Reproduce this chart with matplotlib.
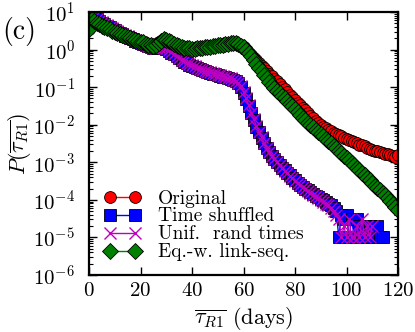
import matplotlib
matplotlib.use('Agg')
import matplotlib.pyplot as plt
import matplotlib.ticker as mticker
import numpy as np

plt.rcParams['font.family'] = 'serif'
plt.rcParams['font.serif'] = ['cmr10']
plt.rcParams['mathtext.fontset'] = 'cm'
plt.rcParams['axes.formatter.use_mathtext'] = True

# log10 P, one bin per day
days_orig = np.arange(0, 121)
log_orig = [0.56, 0.80, 0.77, 0.73, 0.69, 0.65, 0.62, 0.58, 0.55, 0.51,
            0.48, 0.45, 0.42, 0.40, 0.37, 0.34, 0.32, 0.29, 0.27, 0.24,
            0.22, 0.19, 0.17, 0.14, 0.12, 0.11, 0.14, 0.19, 0.24, 0.27,
            0.25, 0.22, 0.19, 0.16, 0.13, 0.10, 0.08, 0.06, 0.05, 0.04,
            0.03, 0.03, 0.04, 0.05, 0.06, 0.07, 0.08, 0.09, 0.10, 0.11,
            0.12, 0.13, 0.14, 0.15, 0.16, 0.17, 0.18, 0.18, 0.15, 0.11,
            0.06, -0.01, -0.08, -0.15, -0.22, -0.29, -0.36, -0.43, -0.50, -0.57,
            -0.64, -0.71, -0.78, -0.85, -0.92, -0.99, -1.06, -1.13, -1.20, -1.27,
            -1.34, -1.41, -1.48, -1.55, -1.62, -1.69, -1.76, -1.83, -1.89, -1.95,
            -2.00, -2.05, -2.10, -2.14, -2.18, -2.22, -2.25, -2.28, -2.31, -2.35,
            -2.37, -2.40, -2.44, -2.46, -2.49, -2.53, -2.55, -2.58, -2.62, -2.64,
            -2.66, -2.69, -2.70, -2.73, -2.74, -2.77, -2.78, -2.81, -2.82, -2.85,
            -2.80]

days_shuf = np.arange(0, 115)
log_shuf = [0.90, 0.88, 0.84, 0.80, 0.76, 0.72, 0.68, 0.64, 0.60, 0.56,
            0.52, 0.48, 0.44, 0.41, 0.37, 0.34, 0.30, 0.27, 0.24, 0.21,
            0.18, 0.15, 0.12, 0.09, 0.06, 0.04, 0.04, 0.07, 0.09, 0.07,
            0.02, -0.03, -0.08, -0.13, -0.18, -0.23, -0.28, -0.32, -0.36, -0.40,
            -0.43, -0.46, -0.49, -0.52, -0.55, -0.58, -0.60, -0.62, -0.64, -0.66,
            -0.68, -0.70, -0.72, -0.74, -0.76, -0.78, -0.81, -0.85, -0.90, -1.00,
            -1.15, -1.32, -1.50, -1.70, -1.88, -2.05, -2.20, -2.35, -2.50, -2.62,
            -2.73, -2.83, -2.92, -3.00, -3.07, -3.14, -3.21, -3.28, -3.35, -3.42,
            -3.48, -3.54, -3.60, -3.65, -3.70, -3.75, -3.80, -3.85, -3.89, -3.93,
            -3.97, -4.01, -4.05, -4.10, -4.15, -4.22, -4.30, -5.00, -4.40, -4.52,
            -4.40, -5.00, -4.52, -5.00, -4.52, -4.70, -5.00, -4.70, -5.00, -4.70,
            -5.00, -5.00, -4.70, -5.00, -5.00]

days_unif = np.arange(0, 111)
log_unif = [0.95, 0.90, 0.86, 0.81, 0.77, 0.73, 0.69, 0.65, 0.61, 0.57,
            0.53, 0.49, 0.45, 0.42, 0.38, 0.35, 0.31, 0.28, 0.25, 0.22,
            0.19, 0.16, 0.13, 0.10, 0.07, 0.05, 0.05, 0.08, 0.10, 0.08,
            0.03, -0.02, -0.07, -0.12, -0.17, -0.22, -0.27, -0.31, -0.35, -0.39,
            -0.42, -0.45, -0.48, -0.51, -0.54, -0.57, -0.59, -0.61, -0.63, -0.65,
            -0.67, -0.69, -0.71, -0.73, -0.75, -0.77, -0.80, -0.84, -0.89, -0.98,
            -1.13, -1.30, -1.48, -1.68, -1.86, -2.03, -2.19, -2.34, -2.48, -2.61,
            -2.72, -2.82, -2.91, -2.99, -3.07, -3.15, -3.22, -3.29, -3.36, -3.43,
            -3.49, -3.55, -3.61, -3.66, -3.72, -3.77, -3.82, -3.86, -3.91, -3.95,
            -4.00, -4.05, -4.10, -4.13, -4.22, -4.30, -4.40, -4.52, -5.00, -4.70,
            -5.00, -4.52, -5.00, -5.00, -4.70, -5.00, -4.52, -5.00, -4.70, -5.00,
            -4.70]

days_eqw = np.arange(0, 121)
log_eqw = [0.55, 0.80, 0.76, 0.72, 0.68, 0.64, 0.61, 0.57, 0.54, 0.50,
           0.47, 0.44, 0.42, 0.39, 0.36, 0.34, 0.31, 0.29, 0.26, 0.24,
           0.21, 0.19, 0.16, 0.13, 0.11, 0.10, 0.13, 0.18, 0.24, 0.27,
           0.25, 0.22, 0.19, 0.16, 0.13, 0.10, 0.07, 0.05, 0.04, 0.03,
           0.02, 0.02, 0.03, 0.04, 0.05, 0.06, 0.07, 0.08, 0.09, 0.10,
           0.11, 0.12, 0.13, 0.14, 0.15, 0.17, 0.18, 0.18, 0.15, 0.10,
           0.08, 0.00, -0.09, -0.18, -0.28, -0.38, -0.48, -0.58, -0.68, -0.77,
           -0.86, -0.94, -1.02, -1.09, -1.16, -1.23, -1.30, -1.37, -1.44, -1.51,
           -1.58, -1.66, -1.74, -1.81, -1.88, -1.95, -2.01, -2.07, -2.13, -2.19,
           -2.25, -2.31, -2.37, -2.43, -2.49, -2.56, -2.62, -2.69, -2.75, -2.82,
           -2.88, -2.95, -3.01, -3.08, -3.14, -3.21, -3.28, -3.35, -3.42, -3.48,
           -3.55, -3.62, -3.68, -3.75, -3.82, -3.88, -3.95, -4.02, -4.10, -4.18,
           -4.27]

labels = ['Original', 'Time shuffled', 'Unif.  rand times', 'Eq.-w. link-seq.']
x_ticks = [0, 20, 40, 60, 80, 100, 120]
y_ticks = [1e-6, 1e-5, 1e-4, 1e-3, 1e-2, 1e-1, 1e0, 1e1]

fig = plt.figure(figsize=(4.15, 3.32), dpi=100)
ax = fig.add_axes([0.2145, 0.1717, 0.7446, 0.7922])

ax.plot(days_orig, 10.0 ** np.array(log_orig), '-o', color='red', mfc='red', mec='black',
        mew=0.6, ms=8.5, lw=1, label=labels[0])
ax.plot(days_shuf, 10.0 ** np.array(log_shuf), '-s', color='blue', mfc='blue', mec='black',
        mew=0.6, ms=8, lw=1, label=labels[1])
ax.plot(days_unif, 10.0 ** np.array(log_unif), '-x', color='m', mew=1.0, ms=8.5, lw=1,
        label=labels[2])
ax.plot(days_eqw, 10.0 ** np.array(log_eqw), '-D', color='green', mfc='green', mec='black',
        mew=0.6, ms=8, lw=1, label=labels[3])

ax.set_yscale('log')
ax.set_xlim(0, 120)
ax.set_ylim(1e-6, 1e1)
ax.set_xticks(x_ticks)
ax.yaxis.set_major_locator(mticker.FixedLocator(y_ticks))
ax.yaxis.set_major_formatter(mticker.LogFormatterSciNotation())
ax.yaxis.set_minor_locator(mticker.LogLocator(base=10, subs=np.arange(2, 10), numticks=20))
ax.yaxis.set_minor_formatter(mticker.NullFormatter())
ax.tick_params(which='both', direction='in', top=True, right=True, labelsize=15)
ax.tick_params(which='major', length=6, width=1)
ax.tick_params(which='minor', length=3, width=0.8)
ax.tick_params(axis='x', pad=5)
ax.tick_params(axis='y', pad=10)
for s in ax.spines.values():
    s.set_linewidth(1.6)

ax.set_xlabel(r'$\overline{\tau_{R1}}$ (days)', fontsize=16, labelpad=4)
ax.set_ylabel(r'$P(\overline{\tau_{R1}})$', fontsize=16, labelpad=0)

fig.text(0.046, 0.905, '(c)', fontsize=20, ha='center', va='center')

ax.legend(loc='lower left', bbox_to_anchor=(0.005, 0.0), frameon=False, fontsize=14,
          numpoints=2, handlelength=1.9, handletextpad=0.85, labelspacing=0.0,
          borderaxespad=0.3, markerscale=1.0)

fig.savefig('out.png', dpi=100)
